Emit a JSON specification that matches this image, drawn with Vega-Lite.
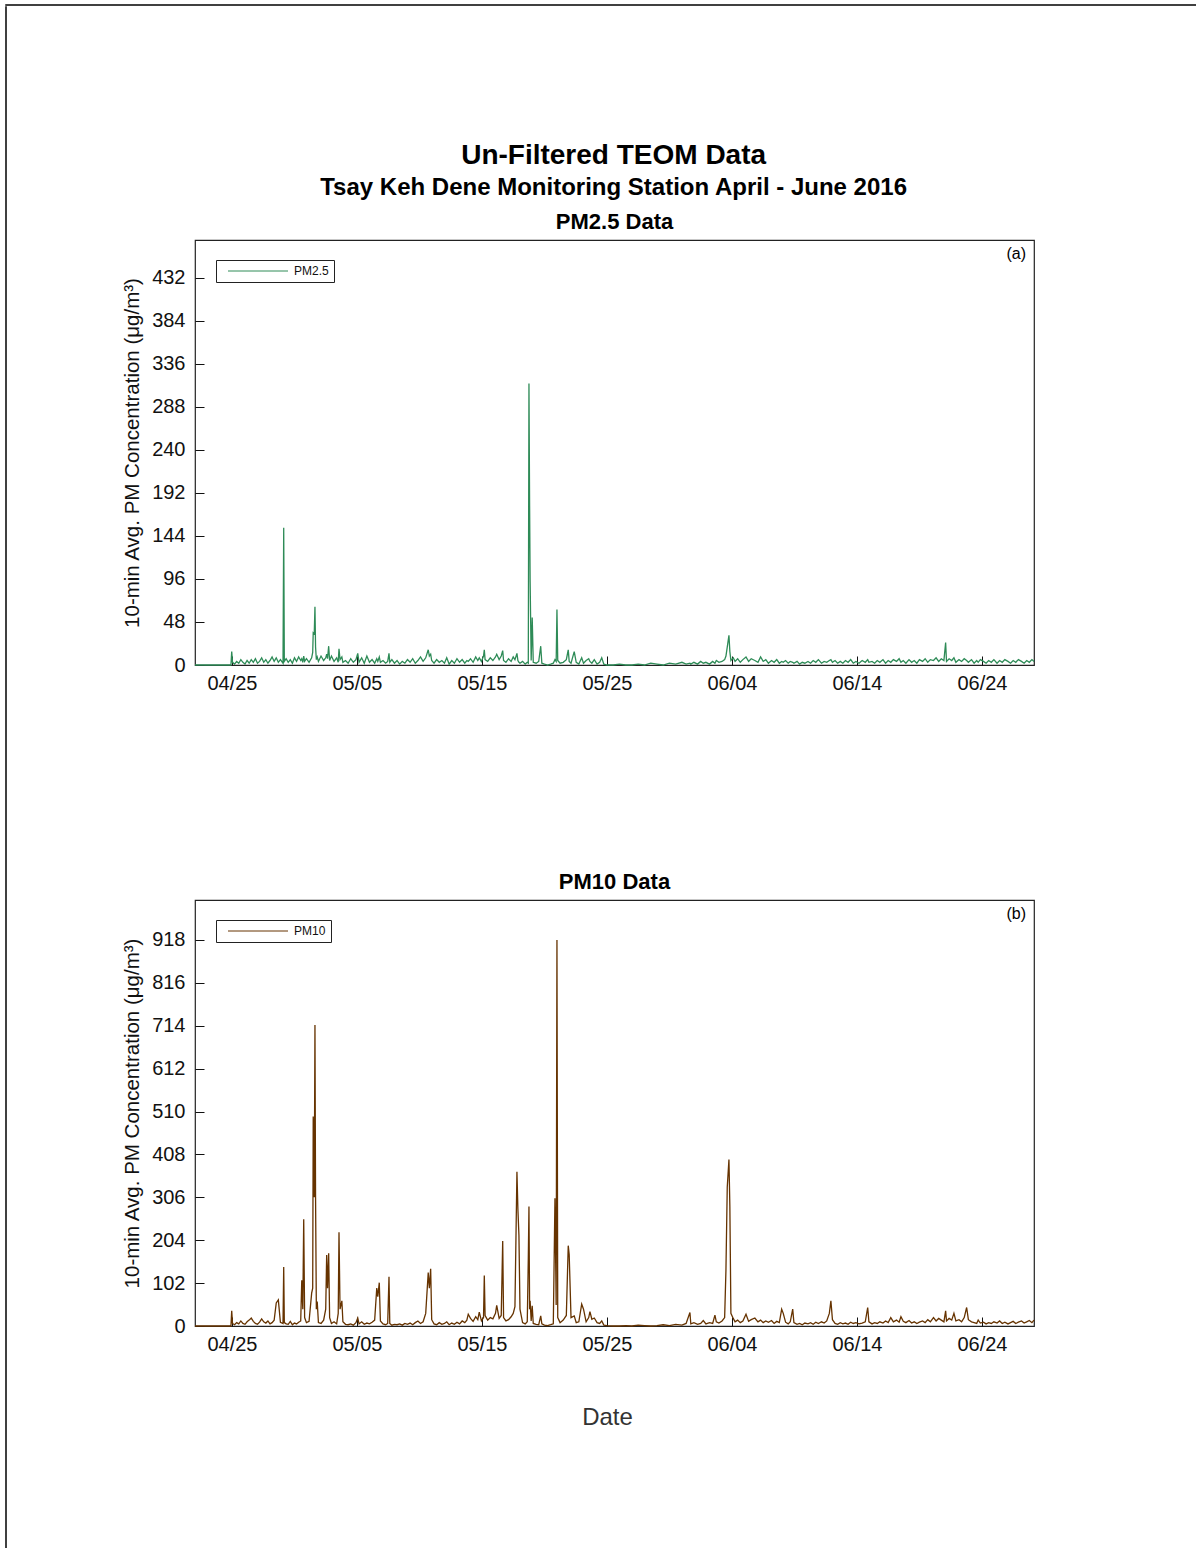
{
  "$schema": "https://vega.github.io/schema/vega-lite/v6.json",
  "background": "white",
  "padding": {"left": 5, "top": 4, "right": 0, "bottom": 0},
  "datasets": {
    "teom": [
      {"date": "2016-04-22T01:00", "pm25": 0, "pm10": 0},
      {"date": "2016-04-24T22:00", "pm25": 0, "pm10": 0},
      {"date": "2016-04-24T23:30", "pm25": 15, "pm10": 36},
      {"date": "2016-04-25T01:00", "pm25": 3, "pm10": 6},
      {"date": "2016-04-25T05:00", "pm25": 1, "pm10": 3},
      {"date": "2016-04-25T09:00", "pm25": 4, "pm10": 8},
      {"date": "2016-04-25T13:00", "pm25": 2, "pm10": 5},
      {"date": "2016-04-25T17:00", "pm25": 6, "pm10": 12},
      {"date": "2016-04-25T21:00", "pm25": 3, "pm10": 6},
      {"date": "2016-04-26T01:00", "pm25": 1, "pm10": 4},
      {"date": "2016-04-26T05:00", "pm25": 5, "pm10": 10},
      {"date": "2016-04-26T09:00", "pm25": 2, "pm10": 14},
      {"date": "2016-04-26T13:00", "pm25": 6, "pm10": 19},
      {"date": "2016-04-26T17:00", "pm25": 3, "pm10": 11},
      {"date": "2016-04-26T21:00", "pm25": 7, "pm10": 6},
      {"date": "2016-04-27T01:00", "pm25": 2, "pm10": 4},
      {"date": "2016-04-27T05:00", "pm25": 4, "pm10": 9},
      {"date": "2016-04-27T09:00", "pm25": 8, "pm10": 17},
      {"date": "2016-04-27T13:00", "pm25": 3, "pm10": 10},
      {"date": "2016-04-27T17:00", "pm25": 6, "pm10": 7},
      {"date": "2016-04-27T21:00", "pm25": 2, "pm10": 12},
      {"date": "2016-04-28T01:00", "pm25": 5, "pm10": 5},
      {"date": "2016-04-28T05:00", "pm25": 9, "pm10": 8},
      {"date": "2016-04-28T09:00", "pm25": 4, "pm10": 14},
      {"date": "2016-04-28T13:00", "pm25": 8, "pm10": 55},
      {"date": "2016-04-28T17:00", "pm25": 3, "pm10": 62},
      {"date": "2016-04-28T21:00", "pm25": 6, "pm10": 9},
      {"date": "2016-04-29T02:00", "pm25": 2, "pm10": 6},
      {"date": "2016-04-29T03:20", "pm25": 153, "pm10": 140},
      {"date": "2016-04-29T04:30", "pm25": 4, "pm10": 8},
      {"date": "2016-04-29T08:00", "pm25": 7, "pm10": 5},
      {"date": "2016-04-29T12:00", "pm25": 3, "pm10": 4},
      {"date": "2016-04-29T16:00", "pm25": 6, "pm10": 11},
      {"date": "2016-04-29T20:00", "pm25": 2, "pm10": 3},
      {"date": "2016-04-30T00:00", "pm25": 8, "pm10": 7},
      {"date": "2016-04-30T04:00", "pm25": 4, "pm10": 5},
      {"date": "2016-04-30T08:00", "pm25": 9, "pm10": 9},
      {"date": "2016-04-30T12:00", "pm25": 5, "pm10": 12},
      {"date": "2016-04-30T14:00", "pm25": 7, "pm10": 109},
      {"date": "2016-04-30T16:00", "pm25": 3, "pm10": 40},
      {"date": "2016-04-30T17:45", "pm25": 10, "pm10": 254},
      {"date": "2016-04-30T19:30", "pm25": 4, "pm10": 20},
      {"date": "2016-04-30T23:00", "pm25": 7, "pm10": 8},
      {"date": "2016-05-01T04:00", "pm25": 3, "pm10": 11},
      {"date": "2016-05-01T09:00", "pm25": 8, "pm10": 78},
      {"date": "2016-05-01T11:00", "pm25": 14, "pm10": 90},
      {"date": "2016-05-01T12:00", "pm25": 36, "pm10": 498},
      {"date": "2016-05-01T14:00", "pm25": 35, "pm10": 306},
      {"date": "2016-05-01T15:20", "pm25": 65, "pm10": 716},
      {"date": "2016-05-01T16:30", "pm25": 20, "pm10": 306},
      {"date": "2016-05-01T18:00", "pm25": 6, "pm10": 40},
      {"date": "2016-05-01T19:40", "pm25": 9, "pm10": 58},
      {"date": "2016-05-01T22:00", "pm25": 4, "pm10": 8},
      {"date": "2016-05-02T03:00", "pm25": 10, "pm10": 6},
      {"date": "2016-05-02T08:00", "pm25": 5, "pm10": 14},
      {"date": "2016-05-02T12:00", "pm25": 8, "pm10": 40},
      {"date": "2016-05-02T13:50", "pm25": 12, "pm10": 169},
      {"date": "2016-05-02T15:30", "pm25": 7, "pm10": 90},
      {"date": "2016-05-02T17:40", "pm25": 21, "pm10": 173},
      {"date": "2016-05-02T19:30", "pm25": 5, "pm10": 20},
      {"date": "2016-05-02T23:00", "pm25": 10, "pm10": 6},
      {"date": "2016-05-03T04:00", "pm25": 4, "pm10": 10},
      {"date": "2016-05-03T09:00", "pm25": 8, "pm10": 5},
      {"date": "2016-05-03T12:00", "pm25": 3, "pm10": 30},
      {"date": "2016-05-03T13:30", "pm25": 18, "pm10": 223},
      {"date": "2016-05-03T15:30", "pm25": 6, "pm10": 40},
      {"date": "2016-05-03T19:00", "pm25": 9, "pm10": 60},
      {"date": "2016-05-03T21:00", "pm25": 3, "pm10": 10},
      {"date": "2016-05-04T02:00", "pm25": 5, "pm10": 4},
      {"date": "2016-05-04T07:00", "pm25": 2, "pm10": 3},
      {"date": "2016-05-04T12:00", "pm25": 7, "pm10": 5},
      {"date": "2016-05-04T17:00", "pm25": 3, "pm10": 2},
      {"date": "2016-05-04T22:00", "pm25": 6, "pm10": 8},
      {"date": "2016-05-05T01:30", "pm25": 13, "pm10": 19},
      {"date": "2016-05-05T04:00", "pm25": 3, "pm10": 5},
      {"date": "2016-05-05T09:00", "pm25": 8, "pm10": 10},
      {"date": "2016-05-05T14:00", "pm25": 2, "pm10": 4},
      {"date": "2016-05-05T19:00", "pm25": 10, "pm10": 7},
      {"date": "2016-05-06T00:00", "pm25": 3, "pm10": 5},
      {"date": "2016-05-06T05:00", "pm25": 6, "pm10": 9},
      {"date": "2016-05-06T10:00", "pm25": 2, "pm10": 14},
      {"date": "2016-05-06T14:00", "pm25": 7, "pm10": 90},
      {"date": "2016-05-06T16:00", "pm25": 4, "pm10": 70},
      {"date": "2016-05-06T18:50", "pm25": 9, "pm10": 103},
      {"date": "2016-05-06T21:00", "pm25": 3, "pm10": 12},
      {"date": "2016-05-07T02:00", "pm25": 5, "pm10": 5},
      {"date": "2016-05-07T07:00", "pm25": 2, "pm10": 3},
      {"date": "2016-05-07T11:00", "pm25": 4, "pm10": 6},
      {"date": "2016-05-07T13:30", "pm25": 13, "pm10": 117},
      {"date": "2016-05-07T15:00", "pm25": 3, "pm10": 6},
      {"date": "2016-05-07T19:00", "pm25": 6, "pm10": 2},
      {"date": "2016-05-08T00:00", "pm25": 2, "pm10": 4},
      {"date": "2016-05-08T05:00", "pm25": 5, "pm10": 3},
      {"date": "2016-05-08T10:00", "pm25": 1, "pm10": 5},
      {"date": "2016-05-08T15:00", "pm25": 4, "pm10": 2},
      {"date": "2016-05-08T20:00", "pm25": 2, "pm10": 6},
      {"date": "2016-05-09T01:00", "pm25": 6, "pm10": 4},
      {"date": "2016-05-09T06:00", "pm25": 3, "pm10": 7},
      {"date": "2016-05-09T11:00", "pm25": 7, "pm10": 3},
      {"date": "2016-05-09T16:00", "pm25": 2, "pm10": 8},
      {"date": "2016-05-09T21:00", "pm25": 5, "pm10": 12},
      {"date": "2016-05-10T02:00", "pm25": 9, "pm10": 6},
      {"date": "2016-05-10T07:00", "pm25": 4, "pm10": 10},
      {"date": "2016-05-10T12:00", "pm25": 8, "pm10": 30},
      {"date": "2016-05-10T16:50", "pm25": 17, "pm10": 127},
      {"date": "2016-05-10T19:00", "pm25": 10, "pm10": 90},
      {"date": "2016-05-10T21:30", "pm25": 12, "pm10": 136},
      {"date": "2016-05-10T23:30", "pm25": 5, "pm10": 15},
      {"date": "2016-05-11T04:00", "pm25": 2, "pm10": 5},
      {"date": "2016-05-11T09:00", "pm25": 6, "pm10": 3},
      {"date": "2016-05-11T14:00", "pm25": 3, "pm10": 8},
      {"date": "2016-05-11T19:00", "pm25": 5, "pm10": 4},
      {"date": "2016-05-12T00:00", "pm25": 2, "pm10": 6},
      {"date": "2016-05-12T04:20", "pm25": 8, "pm10": 10},
      {"date": "2016-05-12T09:00", "pm25": 1, "pm10": 3},
      {"date": "2016-05-12T14:00", "pm25": 5, "pm10": 7},
      {"date": "2016-05-12T19:00", "pm25": 2, "pm10": 4},
      {"date": "2016-05-13T00:00", "pm25": 7, "pm10": 9},
      {"date": "2016-05-13T05:00", "pm25": 3, "pm10": 5},
      {"date": "2016-05-13T10:00", "pm25": 6, "pm10": 12},
      {"date": "2016-05-13T15:00", "pm25": 2, "pm10": 8},
      {"date": "2016-05-13T19:00", "pm25": 5, "pm10": 14},
      {"date": "2016-05-13T21:40", "pm25": 4, "pm10": 28},
      {"date": "2016-05-14T02:00", "pm25": 7, "pm10": 18},
      {"date": "2016-05-14T07:00", "pm25": 3, "pm10": 11},
      {"date": "2016-05-14T12:00", "pm25": 9, "pm10": 22},
      {"date": "2016-05-14T16:00", "pm25": 5, "pm10": 15},
      {"date": "2016-05-14T18:50", "pm25": 8, "pm10": 33},
      {"date": "2016-05-14T23:00", "pm25": 4, "pm10": 12},
      {"date": "2016-05-15T03:00", "pm25": 10, "pm10": 20},
      {"date": "2016-05-15T04:30", "pm25": 17, "pm10": 120},
      {"date": "2016-05-15T06:00", "pm25": 6, "pm10": 25},
      {"date": "2016-05-15T11:00", "pm25": 4, "pm10": 14},
      {"date": "2016-05-15T16:00", "pm25": 8, "pm10": 20},
      {"date": "2016-05-15T21:00", "pm25": 5, "pm10": 17},
      {"date": "2016-05-16T02:00", "pm25": 9, "pm10": 30},
      {"date": "2016-05-16T04:20", "pm25": 12, "pm10": 49},
      {"date": "2016-05-16T09:00", "pm25": 6, "pm10": 18},
      {"date": "2016-05-16T13:00", "pm25": 10, "pm10": 25},
      {"date": "2016-05-16T15:50", "pm25": 16, "pm10": 202},
      {"date": "2016-05-16T17:30", "pm25": 5, "pm10": 20},
      {"date": "2016-05-16T22:00", "pm25": 3, "pm10": 12},
      {"date": "2016-05-17T03:00", "pm25": 7, "pm10": 15},
      {"date": "2016-05-17T08:00", "pm25": 4, "pm10": 22},
      {"date": "2016-05-17T12:00", "pm25": 9, "pm10": 30},
      {"date": "2016-05-17T15:20", "pm25": 6, "pm10": 46},
      {"date": "2016-05-17T19:10", "pm25": 13, "pm10": 367},
      {"date": "2016-05-17T21:00", "pm25": 5, "pm10": 278},
      {"date": "2016-05-17T23:00", "pm25": 3, "pm10": 216},
      {"date": "2016-05-18T01:00", "pm25": 2, "pm10": 40},
      {"date": "2016-05-18T06:00", "pm25": 4, "pm10": 8},
      {"date": "2016-05-18T11:00", "pm25": 1, "pm10": 5},
      {"date": "2016-05-18T15:00", "pm25": 3, "pm10": 10},
      {"date": "2016-05-18T17:00", "pm25": 2, "pm10": 161},
      {"date": "2016-05-18T18:15", "pm25": 314, "pm10": 284},
      {"date": "2016-05-18T19:30", "pm25": 177, "pm10": 40},
      {"date": "2016-05-18T20:30", "pm25": 93, "pm10": 60},
      {"date": "2016-05-18T22:30", "pm25": 5, "pm10": 12},
      {"date": "2016-05-19T00:30", "pm25": 53, "pm10": 48},
      {"date": "2016-05-19T02:30", "pm25": 3, "pm10": 6},
      {"date": "2016-05-19T08:00", "pm25": 2, "pm10": 4},
      {"date": "2016-05-19T13:00", "pm25": 4, "pm10": 3},
      {"date": "2016-05-19T16:50", "pm25": 21, "pm10": 24},
      {"date": "2016-05-19T19:00", "pm25": 2, "pm10": 5},
      {"date": "2016-05-20T00:00", "pm25": 1, "pm10": 2},
      {"date": "2016-05-20T06:00", "pm25": 0, "pm10": 1},
      {"date": "2016-05-20T12:00", "pm25": 1, "pm10": 3},
      {"date": "2016-05-20T17:00", "pm25": 2, "pm10": 5},
      {"date": "2016-05-20T20:10", "pm25": 6, "pm10": 304},
      {"date": "2016-05-20T22:30", "pm25": 4, "pm10": 50},
      {"date": "2016-05-21T00:00", "pm25": 62, "pm10": 918},
      {"date": "2016-05-21T01:30", "pm25": 5, "pm10": 20},
      {"date": "2016-05-21T06:00", "pm25": 2, "pm10": 8},
      {"date": "2016-05-21T12:00", "pm25": 3, "pm10": 14},
      {"date": "2016-05-21T18:00", "pm25": 6, "pm10": 25},
      {"date": "2016-05-21T21:40", "pm25": 17, "pm10": 191},
      {"date": "2016-05-21T23:30", "pm25": 4, "pm10": 170},
      {"date": "2016-05-22T03:00", "pm25": 2, "pm10": 20},
      {"date": "2016-05-22T09:10", "pm25": 15, "pm10": 24},
      {"date": "2016-05-22T13:00", "pm25": 3, "pm10": 8},
      {"date": "2016-05-22T18:00", "pm25": 1, "pm10": 10},
      {"date": "2016-05-22T23:30", "pm25": 8, "pm10": 52},
      {"date": "2016-05-23T03:00", "pm25": 2, "pm10": 40},
      {"date": "2016-05-23T08:00", "pm25": 5, "pm10": 10},
      {"date": "2016-05-23T13:00", "pm25": 7, "pm10": 20},
      {"date": "2016-05-23T15:20", "pm25": 4, "pm10": 34},
      {"date": "2016-05-23T19:00", "pm25": 2, "pm10": 16},
      {"date": "2016-05-23T23:40", "pm25": 6, "pm10": 19},
      {"date": "2016-05-24T05:00", "pm25": 1, "pm10": 8},
      {"date": "2016-05-24T10:00", "pm25": 3, "pm10": 6},
      {"date": "2016-05-24T14:00", "pm25": 8, "pm10": 12},
      {"date": "2016-05-24T18:00", "pm25": 1, "pm10": 2},
      {"date": "2016-05-25T00:00", "pm25": 0, "pm10": 1},
      {"date": "2016-05-25T12:00", "pm25": 0, "pm10": 0},
      {"date": "2016-05-26T00:00", "pm25": 1, "pm10": 0},
      {"date": "2016-05-26T12:00", "pm25": 0, "pm10": 1},
      {"date": "2016-05-27T00:00", "pm25": 0, "pm10": 0},
      {"date": "2016-05-27T12:00", "pm25": 1, "pm10": 2},
      {"date": "2016-05-28T00:00", "pm25": 0, "pm10": 1},
      {"date": "2016-05-28T12:00", "pm25": 2, "pm10": 0},
      {"date": "2016-05-29T00:00", "pm25": 1, "pm10": 1},
      {"date": "2016-05-29T12:00", "pm25": 0, "pm10": 3},
      {"date": "2016-05-30T00:00", "pm25": 2, "pm10": 1},
      {"date": "2016-05-30T12:00", "pm25": 1, "pm10": 4},
      {"date": "2016-05-31T00:00", "pm25": 3, "pm10": 2},
      {"date": "2016-05-31T08:00", "pm25": 1, "pm10": 6},
      {"date": "2016-05-31T15:20", "pm25": 2, "pm10": 32},
      {"date": "2016-05-31T17:00", "pm25": 1, "pm10": 5},
      {"date": "2016-05-31T23:00", "pm25": 3, "pm10": 8},
      {"date": "2016-06-01T06:00", "pm25": 1, "pm10": 4},
      {"date": "2016-06-01T12:00", "pm25": 4, "pm10": 6},
      {"date": "2016-06-01T17:00", "pm25": 2, "pm10": 13},
      {"date": "2016-06-01T22:00", "pm25": 3, "pm10": 5},
      {"date": "2016-06-02T05:00", "pm25": 1, "pm10": 8},
      {"date": "2016-06-02T11:00", "pm25": 4, "pm10": 6},
      {"date": "2016-06-02T15:20", "pm25": 2, "pm10": 26},
      {"date": "2016-06-02T18:00", "pm25": 5, "pm10": 10},
      {"date": "2016-06-02T23:00", "pm25": 3, "pm10": 7},
      {"date": "2016-06-03T05:00", "pm25": 4, "pm10": 12},
      {"date": "2016-06-03T10:00", "pm25": 6, "pm10": 20},
      {"date": "2016-06-03T12:30", "pm25": 10, "pm10": 133},
      {"date": "2016-06-03T15:00", "pm25": 20, "pm10": 330},
      {"date": "2016-06-03T18:15", "pm25": 33, "pm10": 396},
      {"date": "2016-06-03T20:00", "pm25": 15, "pm10": 285},
      {"date": "2016-06-03T22:00", "pm25": 5, "pm10": 30},
      {"date": "2016-06-04T02:30", "pm25": 8, "pm10": 18},
      {"date": "2016-06-04T06:00", "pm25": 4, "pm10": 10},
      {"date": "2016-06-04T11:00", "pm25": 7, "pm10": 14},
      {"date": "2016-06-04T16:00", "pm25": 3, "pm10": 8},
      {"date": "2016-06-04T21:00", "pm25": 6, "pm10": 12},
      {"date": "2016-06-05T03:00", "pm25": 9, "pm10": 28},
      {"date": "2016-06-05T08:00", "pm25": 4, "pm10": 11},
      {"date": "2016-06-05T13:00", "pm25": 7, "pm10": 15},
      {"date": "2016-06-05T20:00", "pm25": 5, "pm10": 19},
      {"date": "2016-06-06T02:00", "pm25": 3, "pm10": 10},
      {"date": "2016-06-06T07:00", "pm25": 9, "pm10": 14},
      {"date": "2016-06-06T12:00", "pm25": 4, "pm10": 8},
      {"date": "2016-06-06T17:00", "pm25": 6, "pm10": 12},
      {"date": "2016-06-06T22:00", "pm25": 2, "pm10": 9},
      {"date": "2016-06-07T04:00", "pm25": 5, "pm10": 13},
      {"date": "2016-06-07T09:00", "pm25": 3, "pm10": 6},
      {"date": "2016-06-07T14:00", "pm25": 6, "pm10": 11},
      {"date": "2016-06-07T19:00", "pm25": 2, "pm10": 8},
      {"date": "2016-06-07T23:30", "pm25": 4, "pm10": 40},
      {"date": "2016-06-08T02:30", "pm25": 3, "pm10": 30},
      {"date": "2016-06-08T07:00", "pm25": 5, "pm10": 9},
      {"date": "2016-06-08T12:00", "pm25": 2, "pm10": 5},
      {"date": "2016-06-08T16:00", "pm25": 4, "pm10": 10},
      {"date": "2016-06-08T20:40", "pm25": 3, "pm10": 40},
      {"date": "2016-06-08T23:00", "pm25": 2, "pm10": 8},
      {"date": "2016-06-09T05:00", "pm25": 4, "pm10": 4},
      {"date": "2016-06-09T10:00", "pm25": 1, "pm10": 6},
      {"date": "2016-06-09T15:00", "pm25": 3, "pm10": 3},
      {"date": "2016-06-09T20:00", "pm25": 2, "pm10": 7},
      {"date": "2016-06-10T02:00", "pm25": 4, "pm10": 5},
      {"date": "2016-06-10T07:00", "pm25": 2, "pm10": 8},
      {"date": "2016-06-10T12:00", "pm25": 5, "pm10": 4},
      {"date": "2016-06-10T17:00", "pm25": 3, "pm10": 9},
      {"date": "2016-06-10T22:00", "pm25": 6, "pm10": 6},
      {"date": "2016-06-11T04:00", "pm25": 2, "pm10": 10},
      {"date": "2016-06-11T09:00", "pm25": 4, "pm10": 7},
      {"date": "2016-06-11T14:00", "pm25": 3, "pm10": 12},
      {"date": "2016-06-11T19:00", "pm25": 5, "pm10": 30},
      {"date": "2016-06-11T22:00", "pm25": 6, "pm10": 60},
      {"date": "2016-06-12T01:00", "pm25": 3, "pm10": 15},
      {"date": "2016-06-12T06:00", "pm25": 5, "pm10": 6},
      {"date": "2016-06-12T11:00", "pm25": 2, "pm10": 4},
      {"date": "2016-06-12T16:00", "pm25": 4, "pm10": 8},
      {"date": "2016-06-12T21:00", "pm25": 2, "pm10": 5},
      {"date": "2016-06-13T02:00", "pm25": 5, "pm10": 7},
      {"date": "2016-06-13T07:00", "pm25": 3, "pm10": 4},
      {"date": "2016-06-13T12:00", "pm25": 6, "pm10": 9},
      {"date": "2016-06-13T17:00", "pm25": 2, "pm10": 6},
      {"date": "2016-06-13T22:00", "pm25": 4, "pm10": 8},
      {"date": "2016-06-14T04:00", "pm25": 2, "pm10": 5},
      {"date": "2016-06-14T10:00", "pm25": 5, "pm10": 7},
      {"date": "2016-06-14T16:00", "pm25": 3, "pm10": 10},
      {"date": "2016-06-14T20:40", "pm25": 6, "pm10": 44},
      {"date": "2016-06-14T23:00", "pm25": 3, "pm10": 10},
      {"date": "2016-06-15T05:00", "pm25": 4, "pm10": 5},
      {"date": "2016-06-15T10:00", "pm25": 2, "pm10": 8},
      {"date": "2016-06-15T15:00", "pm25": 5, "pm10": 6},
      {"date": "2016-06-15T20:00", "pm25": 3, "pm10": 10},
      {"date": "2016-06-16T02:00", "pm25": 6, "pm10": 7},
      {"date": "2016-06-16T07:00", "pm25": 2, "pm10": 12},
      {"date": "2016-06-16T12:00", "pm25": 5, "pm10": 8},
      {"date": "2016-06-16T17:00", "pm25": 3, "pm10": 20},
      {"date": "2016-06-16T22:00", "pm25": 6, "pm10": 10},
      {"date": "2016-06-17T04:00", "pm25": 4, "pm10": 14},
      {"date": "2016-06-17T09:00", "pm25": 7, "pm10": 9},
      {"date": "2016-06-17T12:30", "pm25": 3, "pm10": 22},
      {"date": "2016-06-17T17:00", "pm25": 5, "pm10": 11},
      {"date": "2016-06-17T22:00", "pm25": 2, "pm10": 8},
      {"date": "2016-06-18T04:00", "pm25": 6, "pm10": 13},
      {"date": "2016-06-18T09:00", "pm25": 3, "pm10": 7},
      {"date": "2016-06-18T14:00", "pm25": 5, "pm10": 10},
      {"date": "2016-06-18T19:00", "pm25": 2, "pm10": 6},
      {"date": "2016-06-19T00:00", "pm25": 6, "pm10": 9},
      {"date": "2016-06-19T06:00", "pm25": 4, "pm10": 12},
      {"date": "2016-06-19T11:00", "pm25": 7, "pm10": 8},
      {"date": "2016-06-19T16:00", "pm25": 3, "pm10": 15},
      {"date": "2016-06-19T21:00", "pm25": 6, "pm10": 10},
      {"date": "2016-06-20T03:00", "pm25": 5, "pm10": 20},
      {"date": "2016-06-20T08:00", "pm25": 8, "pm10": 12},
      {"date": "2016-06-20T13:00", "pm25": 4, "pm10": 18},
      {"date": "2016-06-20T18:00", "pm25": 7, "pm10": 14},
      {"date": "2016-06-20T23:00", "pm25": 5, "pm10": 10},
      {"date": "2016-06-21T02:20", "pm25": 25, "pm10": 36},
      {"date": "2016-06-21T04:00", "pm25": 4, "pm10": 12},
      {"date": "2016-06-21T09:00", "pm25": 7, "pm10": 18},
      {"date": "2016-06-21T14:00", "pm25": 5, "pm10": 14},
      {"date": "2016-06-21T18:15", "pm25": 8, "pm10": 30},
      {"date": "2016-06-21T22:00", "pm25": 3, "pm10": 12},
      {"date": "2016-06-22T04:00", "pm25": 6, "pm10": 15},
      {"date": "2016-06-22T09:00", "pm25": 4, "pm10": 10},
      {"date": "2016-06-22T14:00", "pm25": 7, "pm10": 20},
      {"date": "2016-06-22T18:40", "pm25": 5, "pm10": 44},
      {"date": "2016-06-22T22:00", "pm25": 3, "pm10": 15},
      {"date": "2016-06-23T04:00", "pm25": 6, "pm10": 10},
      {"date": "2016-06-23T09:00", "pm25": 2, "pm10": 8},
      {"date": "2016-06-23T14:00", "pm25": 5, "pm10": 6},
      {"date": "2016-06-23T16:50", "pm25": 3, "pm10": 14},
      {"date": "2016-06-23T21:00", "pm25": 6, "pm10": 7},
      {"date": "2016-06-24T03:00", "pm25": 4, "pm10": 9},
      {"date": "2016-06-24T08:00", "pm25": 2, "pm10": 5},
      {"date": "2016-06-24T13:00", "pm25": 5, "pm10": 8},
      {"date": "2016-06-24T18:00", "pm25": 3, "pm10": 6},
      {"date": "2016-06-24T23:00", "pm25": 6, "pm10": 10},
      {"date": "2016-06-25T05:00", "pm25": 2, "pm10": 7},
      {"date": "2016-06-25T10:00", "pm25": 5, "pm10": 12},
      {"date": "2016-06-25T15:00", "pm25": 3, "pm10": 6},
      {"date": "2016-06-25T20:00", "pm25": 6, "pm10": 9},
      {"date": "2016-06-26T02:00", "pm25": 4, "pm10": 5},
      {"date": "2016-06-26T07:00", "pm25": 2, "pm10": 8},
      {"date": "2016-06-26T12:00", "pm25": 5, "pm10": 11},
      {"date": "2016-06-26T17:00", "pm25": 3, "pm10": 6},
      {"date": "2016-06-26T22:00", "pm25": 6, "pm10": 9},
      {"date": "2016-06-27T04:00", "pm25": 4, "pm10": 12},
      {"date": "2016-06-27T09:00", "pm25": 2, "pm10": 7},
      {"date": "2016-06-27T14:00", "pm25": 5, "pm10": 10},
      {"date": "2016-06-27T19:00", "pm25": 3, "pm10": 13},
      {"date": "2016-06-28T00:00", "pm25": 6, "pm10": 8},
      {"date": "2016-06-28T04:00", "pm25": 4, "pm10": 14}
    ]
  },
  "spacing": 0,
  "vconcat": [
    {
      "name": "page_top_edge",
      "width": 1190,
      "height": 0.001,
      "data": {"values": []},
      "mark": "point",
      "view": {"stroke": "black", "strokeWidth": 1.5}
    },
    {
      "spacing": 115,
      "hconcat": [
        {
          "name": "page_left_edge",
          "width": 0.001,
          "height": 1542,
          "data": {"values": []},
          "mark": "point",
          "view": {"stroke": "black", "strokeWidth": 1.5}
        },
        {
          "spacing": 0,
          "vconcat": [
            {
              "name": "top_margin",
              "width": 100,
              "height": 134,
              "data": {"values": []},
              "mark": "point",
              "view": {"stroke": "transparent"}
            },
            {
              "title": {
                "text": "Un-Filtered TEOM Data",
                "subtitle": "Tsay Keh Dene Monitoring Station April - June 2016",
                "fontSize": 28,
                "subtitleFontSize": 24,
                "subtitleFontWeight": "bold",
                "subtitleColor": "black",
                "subtitleFont": "Liberation Sans",
                "subtitlePadding": 6,
                "anchor": "middle",
                "frame": "bounds",
                "dx": 34,
                "offset": 11
              },
              "spacing": 177,
              "resolve": {"scale": {"y": "independent", "color": "independent"}},
              "vconcat": [
                {
                  "title": {"text": "PM2.5 Data", "fontSize": 22, "offset": 5, "anchor": "middle", "frame": "group", "dx": 419.5},
                  "vconcat": [
                    {
                      "title": {"text": "(a)", "anchor": "end", "fontSize": 16, "fontWeight": "normal", "baseline": "top", "offset": -6, "dx": -8, "dy": 16, "frame": "group"},
                      "width": 839,
                      "height": 425,
                      "data": {"name": "teom"},
                      "mark": {"type": "line", "strokeWidth": 1.3, "interpolate": "linear"},
                      "encoding": {
                        "x": {
                          "field": "date",
                          "type": "temporal",
                          "scale": {"domain": [{"year": 2016, "month": 4, "date": 22, "hours": 1}, {"year": 2016, "month": 6, "date": 28, "hours": 4}]},
                          "axis": {
                            "title": null,
                            "format": "%m/%d",
                            "values": [
                              {"year": 2016, "month": 4, "date": 25},
                              {"year": 2016, "month": 5, "date": 5},
                              {"year": 2016, "month": 5, "date": 15},
                              {"year": 2016, "month": 5, "date": 25},
                              {"year": 2016, "month": 6, "date": 4},
                              {"year": 2016, "month": 6, "date": 14},
                              {"year": 2016, "month": 6, "date": 24}
                            ]
                          }
                        },
                        "y": {
                          "field": "pm25",
                          "type": "quantitative",
                          "scale": {"domain": [0, 474], "nice": false},
                          "axis": {"title": "10-min Avg. PM Concentration (μg/m³)", "values": [0, 48, 96, 144, 192, 240, 288, 336, 384, 432]}
                        },
                        "color": {
                          "datum": "PM2.5",
                          "scale": {"range": ["#2e8b57"]},
                          "legend": {"title": null, "orient": "none", "legendX": 21, "legendY": 20}
                        }
                      }
                    }
                  ]
                },
                {
                  "title": {"text": "PM10 Data", "fontSize": 22, "offset": 5, "anchor": "middle", "frame": "group", "dx": 419.5},
                  "vconcat": [
                    {
                      "title": {"text": "(b)", "anchor": "end", "fontSize": 16, "fontWeight": "normal", "baseline": "top", "offset": -6, "dx": -8, "dy": 16, "frame": "group"},
                      "width": 839,
                      "height": 426,
                      "data": {"name": "teom"},
                      "mark": {"type": "line", "strokeWidth": 1.3, "interpolate": "linear"},
                      "encoding": {
                        "x": {
                          "field": "date",
                          "type": "temporal",
                          "scale": {"domain": [{"year": 2016, "month": 4, "date": 22, "hours": 1}, {"year": 2016, "month": 6, "date": 28, "hours": 4}]},
                          "axis": {
                            "title": "Date",
                            "titlePadding": 51,
                            "titleX": 412,
                            "format": "%m/%d",
                            "values": [
                              {"year": 2016, "month": 4, "date": 25},
                              {"year": 2016, "month": 5, "date": 5},
                              {"year": 2016, "month": 5, "date": 15},
                              {"year": 2016, "month": 5, "date": 25},
                              {"year": 2016, "month": 6, "date": 4},
                              {"year": 2016, "month": 6, "date": 14},
                              {"year": 2016, "month": 6, "date": 24}
                            ]
                          }
                        },
                        "y": {
                          "field": "pm10",
                          "type": "quantitative",
                          "scale": {"domain": [0, 1013], "nice": false},
                          "axis": {"title": "10-min Avg. PM Concentration (μg/m³)", "values": [0, 102, 204, 306, 408, 510, 612, 714, 816, 918]}
                        },
                        "color": {
                          "datum": "PM10",
                          "scale": {"range": ["#663300"]},
                          "legend": {"title": null, "orient": "none", "legendX": 21, "legendY": 20}
                        }
                      }
                    }
                  ]
                }
              ]
            }
          ]
        }
      ]
    }
  ],
  "config": {
    "font": "Liberation Sans",
    "view": {"stroke": "#222", "strokeWidth": 1.2},
    "title": {"font": "Liberation Sans", "fontSize": 22, "fontWeight": "bold", "color": "black"},
    "axis": {
      "grid": false,
      "domain": false,
      "tickSize": -9,
      "tickColor": "#111",
      "tickWidth": 1,
      "labelFont": "Liberation Sans",
      "labelFontSize": 20,
      "labelColor": "#111",
      "titleFont": "Liberation Sans",
      "titleFontSize": 20.5,
      "titleFontWeight": "normal",
      "titleColor": "#111"
    },
    "axisX": {"labelPadding": 17, "titleFontSize": 24, "titleColor": "#333", "labelFlush": false},
    "axisY": {"labelPadding": 19, "titlePadding": 9},
    "legend": {
      "strokeColor": "#222",
      "fillColor": "white",
      "padding": 5,
      "symbolType": "M0.2,0H12.2",
      "symbolSize": 100,
      "symbolStrokeWidth": 1,
      "labelFont": "Liberation Sans",
      "labelFontSize": 12,
      "labelOffset": 61,
      "labelColor": "#111"
    }
  }
}
